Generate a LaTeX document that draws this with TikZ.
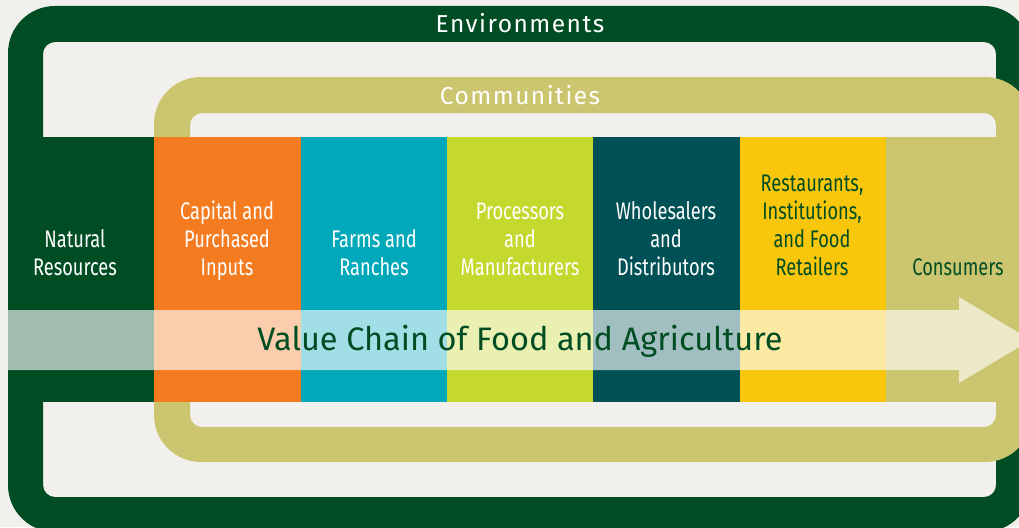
\documentclass[tikz,border=0pt]{standalone}
\usepackage{fontspec}
\setmainfont{Fira Sans}
\newfontfamily\colfont{Fira Sans}[FakeStretch=0.76]
\newfontfamily\bandfont{Fira Sans}[LetterSpace=6]
\definecolor{paper}{HTML}{F2F0EC}
\definecolor{envgreen}{HTML}{004D24}
\definecolor{commkhaki}{HTML}{CCC56F}
\definecolor{inputorange}{HTML}{F47B20}
\definecolor{farmteal}{HTML}{00A8BA}
\definecolor{proclime}{HTML}{C5D82E}
\definecolor{wholeteal}{HTML}{005156}
\definecolor{retailyellow}{HTML}{F8C60A}
\begin{document}
\begin{tikzpicture}[x=1pt,y=-1pt,
    coltext/.style={align=center,anchor=south,inner sep=0pt,font=\colfont\fontsize{24}{28}\selectfont},
    bandtext/.style={text=white,anchor=base,inner sep=0pt,font=\bandfont\fontsize{24.5}{30}\selectfont}]
    \useasboundingbox (0,0) rectangle (1019,527);
    \clip (0,0) rectangle (1019,527);
    \fill[paper] (0,0) rectangle (1019,527);
    % environments and communities rings
    \fill[envgreen,even odd rule] [rounded corners=47pt] (8,6) rectangle (1031,532)
        [rounded corners=12pt] (43,42) rectangle (996,497);
    \fill[commkhaki,even odd rule] [rounded corners=47pt] (154,77) rectangle (1032,462)
        [rounded corners=12pt] (190,113) rectangle (996,427);
    \node[bandtext] (env) at (520,33) {Environments};
    \node[bandtext] (comm) at (520,104) {Communities};
    % links of the chain
    \foreach \xa/\xb/\c/\tc/\tx/\t [count=\i] in {
        8/154/envgreen/white/75/{Natural\\Resources},
        154/301/inputorange/white/227/{Capital and\\Purchased\\Inputs},
        301/447/farmteal/white/374/{Farms and\\Ranches},
        447/593/proclime/white/520/{Processors\\and\\Manufacturers},
        593/740/wholeteal/white/666/{Wholesalers\\and\\Distributors},
        740/886/retailyellow/envgreen/812/{Restaurants,\\Institutions,\\and Food\\Retailers},
        886/1032/commkhaki/envgreen/958/{Consumers}}{
        \fill[\c] (\xa,137) rectangle (\xb,402);
        \node[coltext,text=\tc] (link\i) at (\tx,284) {\t\strut};
    }
    % the arrow
    \fill[white,opacity=0.63] (8,310) -- (959,310) -- (959,297) -- (1031,340)
        -- (959,383) -- (959,370) -- (8,370) -- cycle;
    \node[text=envgreen,anchor=base,inner sep=0pt,font=\fontsize{32.5}{40}\selectfont] (chain) at (520,350)
        {Value Chain of Food and Agriculture};
\end{tikzpicture}
\end{document}
